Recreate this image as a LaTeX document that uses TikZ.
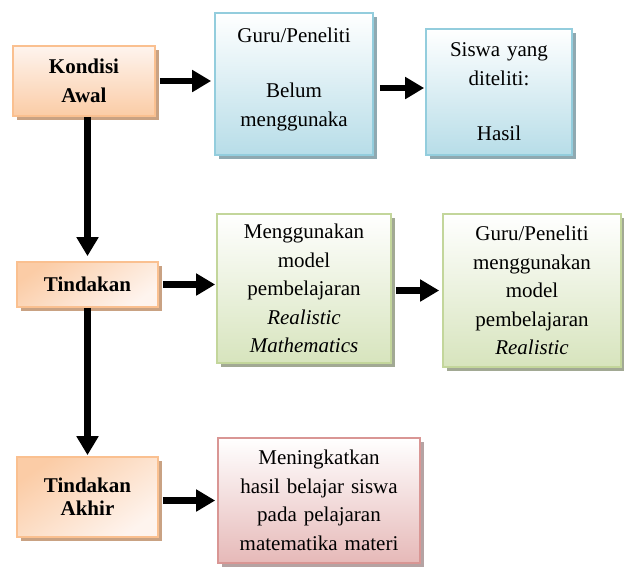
\documentclass[tikz,border=0pt]{standalone}
\usepackage{fontspec}
\setmainfont{Liberation Serif}
\usetikzlibrary{arrows.meta,shadows}
\definecolor{oranyeTepi}{HTML}{FAC090}
\definecolor{oranyeAtas}{HTML}{FEF4EE}
\definecolor{oranyeBawah}{HTML}{FBCCA6}
\definecolor{oranyeBayang}{HTML}{C9A283}
\definecolor{biruTepi}{HTML}{93CDDD}
\definecolor{biruBawah}{HTML}{B7DDE8}
\definecolor{biruBayang}{HTML}{8FA9B1}
\definecolor{hijauTepi}{HTML}{C3D69B}
\definecolor{hijauBawah}{HTML}{D7E4BD}
\definecolor{hijauBayang}{HTML}{A2A994}
\definecolor{merahTepi}{HTML}{D99694}
\definecolor{merahBawah}{HTML}{E6B9B8}
\definecolor{merahBayang}{HTML}{B5A3A3}
\begin{document}
\begin{tikzpicture}[x=1pt,y=-1pt,
  kotak/.style={rectangle,line width=1.6pt,inner sep=0pt,align=center,
    font=\fontsize{21}{28.5}\selectfont},
  bayang/.style={drop shadow={shadow xshift=3.5pt,shadow yshift=-3.5pt,fill=#1,opacity=1}},
  kotakOranye/.style={kotak,draw=oranyeTepi,bayang=oranyeBayang,
    font=\bfseries\fontsize{21}{28.5}\selectfont},
  kotakBiru/.style={kotak,draw=biruTepi,top color=white,bottom color=biruBawah,bayang=biruBayang},
  kotakHijau/.style={kotak,draw=hijauTepi,top color=white,bottom color=hijauBawah,bayang=hijauBayang},
  kotakMerah/.style={kotak,draw=merahTepi,top color=white,bottom color=merahBawah,bayang=merahBayang},
  panah/.style={line width=6.8pt,-{Triangle[length=19pt,width=21pt]}}]
\useasboundingbox (0,0) rectangle (624,568);
% kolom kiri
\node[kotakOranye,top color=oranyeAtas,bottom color=oranyeBawah,minimum width=142pt,minimum height=70pt] (kondisi) at (84,81) {Kondisi\\Awal};
\node[kotakOranye,top color=oranyeBawah,bottom color=oranyeAtas,shading angle=35,minimum width=141pt,minimum height=45pt] (tindakan) at (87.5,284.5) {Tindakan};
\node[kotakOranye,top color=oranyeBawah,bottom color=oranyeAtas,shading angle=35,minimum width=141pt,minimum height=80pt,font=\bfseries\fontsize{21}{23}\selectfont] (akhir) at (87.5,497) {Tindakan\\Akhir};
% baris atas
\node[kotakBiru,minimum width=158pt,minimum height=142pt,text width=150pt] (guru) at (294,84) {Guru/Peneliti\\[27pt]Belum\\menggunaka\\[-14pt]\mbox{}};
\node[kotakBiru,minimum width=146pt,minimum height=126pt,text width=140pt] (siswa) at (499,92) {Siswa yang\\diteliti:\\[27pt]Hasil};
% baris tengah
\node[kotakHijau,minimum width=174pt,minimum height=149pt,text width=166pt] (model) at (304,288.5) {Menggunakan\\model\\pembelajaran\\\textit{Realistic}\\\textit{Mathematics}};
\node[kotakHijau,minimum width=178pt,minimum height=153pt,text width=170pt] (guruModel) at (532,290.5) {Guru/Peneliti\\menggunakan\\model\\pembelajaran\\\textit{Realistic}};
% baris bawah
\node[kotakMerah,minimum width=202pt,minimum height=125pt,text width=196pt] (hasil) at (319,500.5) {Meningkatkan\\hasil belajar siswa\\pada pelajaran\\matematika materi};
% panah
\draw[panah,shorten <=4pt,shorten >=3pt] (kondisi.east) -- (kondisi.east -| guru.west);
\draw[panah,shorten <=6pt,shorten >=1pt] ([yshift=-4pt]guru.east) -- ([yshift=-4pt]guru.east -| siswa.west);
\draw[panah,shorten >=5pt] (kondisi.south -| tindakan.north) -- (tindakan.north);
\draw[panah,shorten <=4pt,shorten >=1pt] (tindakan.east) -- (tindakan.east -| model.west);
\draw[panah,shorten <=4pt,shorten >=3pt] (model.east |- guruModel.west) -- (guruModel.west);
\draw[panah,shorten >=1pt] (tindakan.south) -- (akhir.north);
\draw[panah,shorten <=4pt,shorten >=2pt] (akhir.east |- hasil.west) -- (hasil.west);
\end{tikzpicture}
\end{document}
